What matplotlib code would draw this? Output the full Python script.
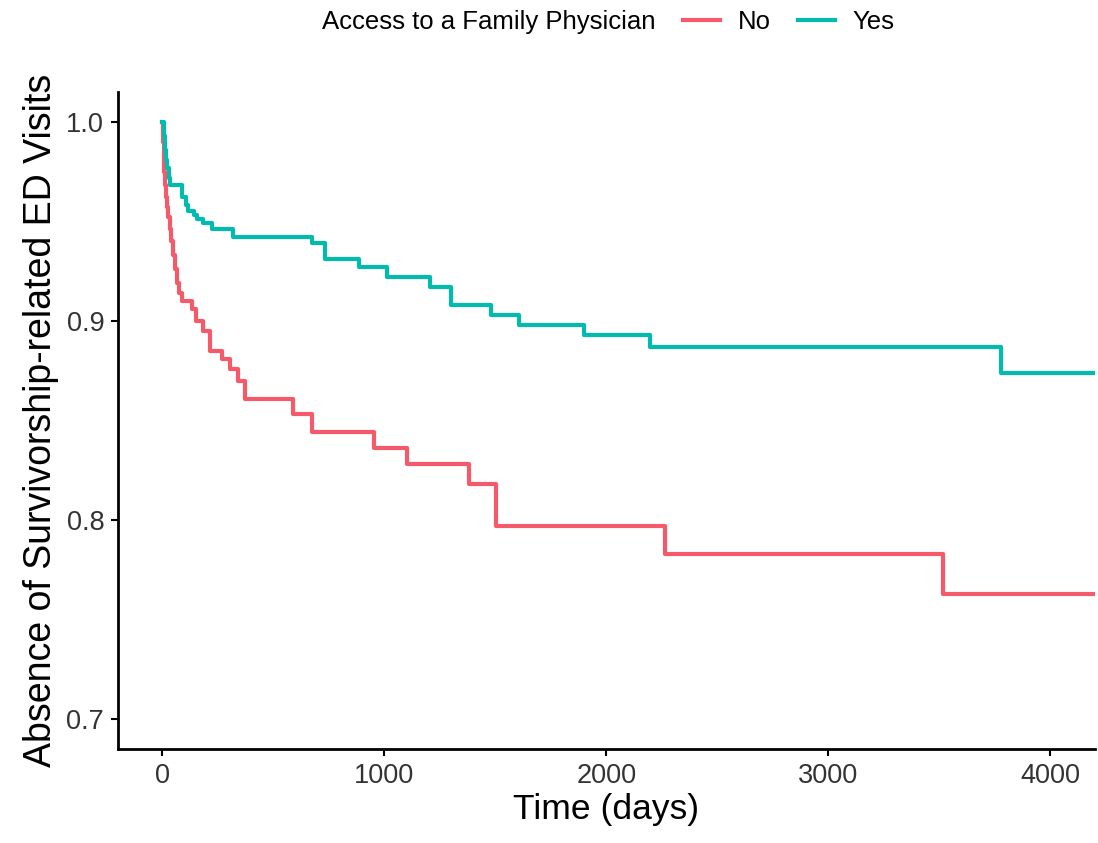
import matplotlib
matplotlib.use("Agg")
import matplotlib.pyplot as plt
from matplotlib.lines import Line2D

plt.rcParams['font.family'] = ['Liberation Sans', 'DejaVu Sans']

# Kaplan-Meier estimates (step "post")
no_time = [0, 3, 6, 9, 12, 16, 20, 26, 32, 40, 48, 55, 65, 76, 89, 134, 149, 185,
           216, 269, 306, 340, 374, 590, 674, 955, 1100, 1380, 1505, 2262, 3518, 4200]
no_surv = [1.0, 0.990, 0.982, 0.975, 0.968, 0.962, 0.957, 0.952, 0.946, 0.940, 0.933,
           0.926, 0.919, 0.914, 0.910, 0.906, 0.900, 0.895, 0.885, 0.881, 0.876, 0.870,
           0.861, 0.853, 0.844, 0.836, 0.828, 0.818, 0.797, 0.783, 0.763, 0.763]

yes_time = [0, 5, 10, 15, 20, 28, 36, 89, 105, 117, 140, 156, 185, 224, 320, 674, 733,
            884, 1011, 1205, 1300, 1478, 1605, 1900, 2195, 3778, 4200]
yes_surv = [1.0, 0.993, 0.986, 0.981, 0.977, 0.972, 0.968, 0.962, 0.958, 0.955, 0.953,
            0.951, 0.949, 0.946, 0.942, 0.939, 0.931, 0.927, 0.922, 0.917, 0.908, 0.903,
            0.898, 0.893, 0.887, 0.874, 0.874]

groups = ["No", "Yes"]
colors = {"No": "#F45A6A", "Yes": "#00BBAE"}

fig = plt.figure(figsize=(10.98, 8.43), dpi=100)
ax = fig.add_axes([0.1075, 0.1115, 0.8895, 0.7795])

ax.step(no_time, no_surv, where="post", color=colors["No"], lw=3.0)
ax.step(yes_time, yes_surv, where="post", color=colors["Yes"], lw=3.0)

ax.set_xlim(-200, 4200)
ax.set_ylim(0.685, 1.015)
ax.set_xticks([0, 1000, 2000, 3000, 4000])
ax.set_yticks([0.7, 0.8, 0.9, 1.0])
ax.set_yticklabels(["0.7", "0.8", "0.9", "1.0"])

for s in ["top", "right"]:
    ax.spines[s].set_visible(False)
for s in ["left", "bottom"]:
    ax.spines[s].set_linewidth(2)
    ax.spines[s].set_color("black")
ax.tick_params(length=5, width=1.5, colors="black", labelsize=19.5, labelcolor="#333333", pad=5)

ax.set_xlabel("Time (days)", fontsize=25.5, labelpad=3)
ax.set_ylabel("Absence of Survivorship-related ED Visits", fontsize=27, labelpad=5)

# legend on top: title on the left, keys in one row
fig.text(0.2933, 0.974, "Access to a Family Physician", fontsize=18.5, ha="left", va="center")
handles = [Line2D([], [], color=colors[g], lw=3.0) for g in groups]
fig.legend(handles, groups, loc="center left", bbox_to_anchor=(0.622, 0.974), ncol=2,
           frameon=False, fontsize=18.5, handlelength=1.44, handletextpad=0.7,
           columnspacing=1.05, borderaxespad=0, borderpad=0)

fig.savefig("out.png", dpi=100)
